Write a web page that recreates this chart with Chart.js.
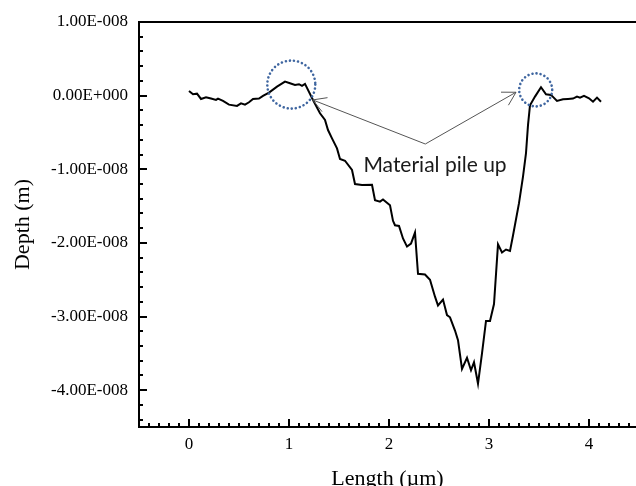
<!DOCTYPE html>
<html><head><meta charset="utf-8">
<script src="https://cdn.jsdelivr.net/npm/chart.js@4/dist/chart.umd.min.js"></script>
<style>html,body{margin:0;padding:0;background:#fff;overflow:hidden}#wrap{width:636px;height:486px;position:relative}</style>
</head><body><div id="wrap"><canvas id="c" width="636" height="486"></canvas></div>
<script>
// ---- data ----
const lengthUm = [0.00,0.04,0.08,0.12,0.17,0.22,0.27,0.29,0.34,0.40,0.48,0.52,0.56,0.60,0.64,0.70,0.74,0.80,0.88,0.96,1.01,1.06,1.10,1.13,1.16,1.24,1.31,1.36,1.39,1.43,1.48,1.51,1.56,1.63,1.66,1.73,1.83,1.86,1.91,1.94,2.01,2.04,2.06,2.10,2.14,2.18,2.22,2.26,2.29,2.36,2.41,2.46,2.49,2.54,2.58,2.61,2.66,2.69,2.73,2.78,2.82,2.85,2.89,2.93,2.97,3.01,3.05,3.09,3.13,3.17,3.21,3.24,3.30,3.34,3.37,3.39,3.41,3.46,3.52,3.57,3.62,3.68,3.74,3.79,3.84,3.88,3.91,3.95,4.00,4.04,4.08,4.12];
const depthNm  = [0.64,0.19,0.27,-0.45,-0.22,-0.40,-0.58,-0.40,-0.72,-1.22,-1.40,-1.04,-1.22,-0.90,-0.45,-0.40,-0.04,0.41,1.22,1.90,1.69,1.46,1.55,1.32,1.59,-0.60,-2.40,-3.30,-4.67,-5.80,-7.16,-8.60,-8.84,-10.1,-12.0,-12.15,-12.1,-14.2,-14.4,-14.1,-14.9,-17.0,-17.6,-17.7,-19.4,-20.5,-20.1,-18.6,-24.2,-24.3,-25.0,-27.3,-28.5,-27.7,-29.8,-30.1,-31.9,-33.2,-37.1,-35.6,-37.3,-36.2,-39.1,-35.0,-30.6,-30.6,-28.3,-20.2,-21.3,-20.9,-21.1,-19.0,-14.6,-11.0,-7.8,-4.0,-1.3,-0.13,1.14,0.19,0.10,-0.72,-0.50,-0.45,-0.40,-0.13,-0.27,-0.04,-0.36,-0.82,-0.27,-0.82];
const xTickValues = [0,1,2,3,4];
const yTickValues = [-4e-8,-3e-8,-2e-8,-1e-8,0,1e-8];
const xAxisTitle = 'Length (\u00b5m)';
const yAxisTitle = 'Depth (m)';
const noteText = 'Material pile up';
// annotation anchors in data units [µm, nm]
const circleCenters = [[1.023,1.5],[3.467,0.78]];
const arrowVertex = [2.363,-6.57];
const arrowTips = [[1.237,-0.58],[3.27,0.46]];
const noteAnchor = [2.46,-10.34];

// ---- styles ----
const circleRadii = [24,16.5];
const serif = 'Liberation Serif';

function sci(v){
  if (Math.abs(v) < 1e-20) return '0.00E+000';
  let e = Math.floor(Math.log10(Math.abs(v)) + 1e-9);
  let m = v/Math.pow(10,e);
  if (Math.abs(m) >= 9.995){ m/=10; e++; }
  return m.toFixed(2)+'E'+(e<0?'-':'+')+String(Math.abs(e)).padStart(3,'0');
}

const overlay = {
  id:'overlay',
  afterDraw(chart){
    const {ctx, chartArea:a, scales:{x,y}} = chart;
    const P = (p)=>[x.getPixelForValue(p[0]), y.getPixelForValue(p[1]*1e-9)];
    ctx.save();
    // top frame line
    ctx.strokeStyle='#000'; ctx.lineWidth=2;
    ctx.beginPath(); ctx.moveTo(a.left-1,a.top); ctx.lineTo(a.right,a.top); ctx.stroke();
    // inward ticks
    ctx.lineWidth=2;
    ctx.beginPath();
    for (let k=-4;k<=44;k++){
      const px = Math.round(x.getPixelForValue(k/10));
      const len = (k%10===0)?8:4;
      ctx.moveTo(px,a.bottom); ctx.lineTo(px,a.bottom-len);
    }
    for (let k=-22;k<=4;k++){
      const py = Math.round(y.getPixelForValue(k*2e-9));
      const len = (k%5===0)?8:4;
      ctx.moveTo(a.left,py); ctx.lineTo(a.left+len,py);
    }
    ctx.stroke();
    // arrows
    ctx.strokeStyle='#555'; ctx.lineWidth=1;
    const v = P(arrowVertex);
    arrowTips.forEach(t=>{
      const tp = P(t);
      ctx.beginPath(); ctx.moveTo(v[0],v[1]); ctx.lineTo(tp[0],tp[1]); ctx.stroke();
      const ang = Math.atan2(v[1]-tp[1], v[0]-tp[0]);
      ctx.beginPath();
      [-Math.PI/6, Math.PI/6].forEach(d=>{
        ctx.moveTo(tp[0],tp[1]);
        ctx.lineTo(tp[0]+15*Math.cos(ang+d), tp[1]+15*Math.sin(ang+d));
      });
      ctx.stroke();
    });
    // dotted circles
    ctx.strokeStyle='#3f66a0'; ctx.lineWidth=2.6; ctx.lineCap='round';
    ctx.setLineDash([0.01,4.1]);
    circleCenters.forEach((c,i)=>{
      const p = P(c);
      ctx.beginPath(); ctx.arc(p[0],p[1],circleRadii[i],0,Math.PI*2); ctx.stroke();
    });
    ctx.setLineDash([]);
    // note text
    const n = P(noteAnchor);
    ctx.fillStyle='#1a1a1a'; ctx.font='21px Lato'; ctx.textAlign='center'; ctx.textBaseline='alphabetic';
    ctx.fillText(noteText, n[0], n[1]);
    ctx.restore();
  }
};

new Chart(document.getElementById('c'), {
  type:'line',
  data:{ datasets:[{
    data: lengthUm.map((v,i)=>({x:v, y:depthNm[i]*1e-9})),
    borderColor:'#000', borderWidth:2, pointRadius:0, tension:0, fill:false
  }]},
  options:{
    responsive:false, animation:false, devicePixelRatio:1,
    layout:{padding:{top:22,left:0,right:0,bottom:0}},
    plugins:{legend:{display:false}, tooltip:{enabled:false}},
    scales:{
      x:{type:'linear', min:-0.5, max:4.47,
        afterBuildTicks:s=>{ s.ticks = xTickValues.map(v=>({value:v})); },
        afterFit:s=>{ s.height = 59; },
        grid:{display:false, drawTicks:false},
        border:{display:true, color:'#000', width:2},
        ticks:{color:'#000', font:{family:serif, size:17}, padding:7, maxRotation:0, autoSkip:false},
        title:{display:true, text:xAxisTitle, color:'#000', font:{family:serif, size:22, lineHeight:0.87}, padding:{top:0,bottom:-3}}
      },
      y:{type:'linear', min:-4.5e-8, max:1e-8,
        afterBuildTicks:s=>{ s.ticks = yTickValues.map(v=>({value:v})); },
        afterFit:s=>{ s.width = 139; },
        grid:{display:false, drawTicks:false},
        border:{display:true, color:'#000', width:2},
        ticks:{color:'#000', font:{family:serif, size:17}, padding:11, callback:v=>sci(v)},
        title:{display:true, text:yAxisTitle, color:'#000', font:{family:serif, size:22, lineHeight:1}, padding:{top:12,bottom:0}}
      }
    }
  },
  plugins:[overlay]
});
</script></body></html>
